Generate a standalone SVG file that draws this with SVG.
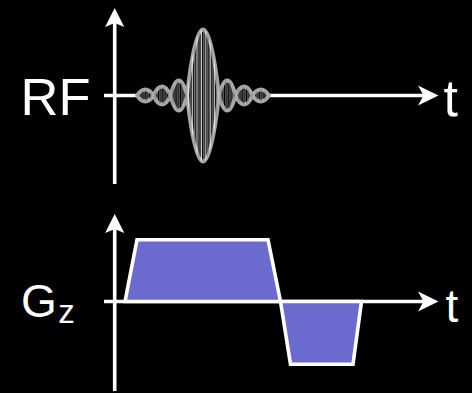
<svg xmlns="http://www.w3.org/2000/svg" width="472" height="393" viewBox="0 0 472 393">
  <style>
    .axis { stroke: #ffffff; stroke-width: 3.6; fill: none; }
    .head { fill: #ffffff; stroke: none; }
    .lbl { fill: #ffffff; font-family: "Liberation Sans", Arial, Helvetica, sans-serif; }
    .lobe { fill: #000000; stroke: #a8a8a8; stroke-width: 3.8; stroke-linejoin: round; }
    .trap { fill: #6a6acf; stroke: #ffffff; stroke-width: 3.6; stroke-linejoin: miter; }
  </style>
  <defs>
    <pattern id="carrierMain" patternUnits="userSpaceOnUse" x="187" y="0" width="4.4" height="10">
      <rect x="0.6" y="0" width="1" height="10" fill="#ffffff"/>
      <rect x="2.8" y="0" width="1" height="10" fill="#8a8a8a"/>
    </pattern>
    <pattern id="carrierSide" patternUnits="userSpaceOnUse" x="136" y="0" width="4.4" height="10">
      <rect x="1.2" y="0" width="1" height="10" fill="#7a7a7a"/>
      <rect x="3.3" y="0" width="0.6" height="10" fill="#bdbdbd"/>
    </pattern>
    <clipPath id="mainClip">
      <path d="M187,95.5 C196.6,7.5 209.4,7.5 219,95.5 C209.4,183.5 196.6,183.5 187,95.5Z"/>
    </clipPath>
    <clipPath id="sideClip">
      <path d="M170.5,95.5 C175.5,75.5 182,75.5 187,95.5 C182,115.5 175.5,115.5 170.5,95.5Z"/>
      <path d="M153.5,95.5 C158.6,83.5 165.4,83.5 170.5,95.5 C165.4,107.5 158.6,107.5 153.5,95.5Z"/>
      <path d="M137,95.5 C142,87.5 148.5,87.5 153.5,95.5 C148.5,103.5 142,103.5 137,95.5Z"/>
      <path d="M219,95.5 C224,75.5 230.5,75.5 235.5,95.5 C230.5,115.5 224,115.5 219,95.5Z"/>
      <path d="M235.5,95.5 C240.6,83.5 247.4,83.5 252.5,95.5 C247.4,107.5 240.6,107.5 235.5,95.5Z"/>
      <path d="M252.5,95.5 C257.5,87.5 264,87.5 269,95.5 C264,103.5 257.5,103.5 252.5,95.5Z"/>
    </clipPath>
  </defs>

  <rect x="0" y="0" width="472" height="393" fill="#000000"/>

  <g id="rf-axes">
    <line class="axis" x1="114.7" y1="184" x2="114.7" y2="22"/>
    <polygon class="head" points="114.7,8 124.3,27 114.7,23 105.1,27"/>
    <line class="axis" x1="104" y1="95.5" x2="424" y2="95.5"/>
    <polygon class="head" points="438.5,95.5 418,85.5 423.5,95.5 418,105.5"/>
  </g>

  <g id="rf-pulse">
    <path class="lobe" d="M137,95.5 C142,87.5 148.5,87.5 153.5,95.5 C148.5,103.5 142,103.5 137,95.5Z"/>
    <path class="lobe" d="M153.5,95.5 C158.6,83.5 165.4,83.5 170.5,95.5 C165.4,107.5 158.6,107.5 153.5,95.5Z"/>
    <path class="lobe" d="M170.5,95.5 C175.5,75.5 182,75.5 187,95.5 C182,115.5 175.5,115.5 170.5,95.5Z"/>
    <path class="lobe" d="M219,95.5 C224,75.5 230.5,75.5 235.5,95.5 C230.5,115.5 224,115.5 219,95.5Z"/>
    <path class="lobe" d="M235.5,95.5 C240.6,83.5 247.4,83.5 252.5,95.5 C247.4,107.5 240.6,107.5 235.5,95.5Z"/>
    <path class="lobe" d="M252.5,95.5 C257.5,87.5 264,87.5 269,95.5 C264,103.5 257.5,103.5 252.5,95.5Z"/>
    <path class="lobe" d="M187,95.5 C196.6,7.5 209.4,7.5 219,95.5 C209.4,183.5 196.6,183.5 187,95.5Z"/>
    <rect x="136" y="70" width="134" height="52" fill="url(#carrierSide)" clip-path="url(#sideClip)"/>
    <rect x="187" y="20" width="32" height="152" fill="url(#carrierMain)" clip-path="url(#mainClip)"/>
  </g>

  <g id="gz-axes">
    <line class="axis" x1="114.7" y1="391" x2="114.7" y2="229"/>
    <polygon class="head" points="114.7,214 124.3,233 114.7,229 105.1,233"/>
    <line class="axis" x1="104" y1="301.5" x2="424" y2="301.5"/>
    <polygon class="head" points="438.5,301.5 418,291.5 423.5,301.5 418,311.5"/>
  </g>

  <g id="gz-gradient">
    <polygon class="trap" points="125,301.5 137,239.7 268,239.7 280.5,301.5"/>
    <polygon class="trap" points="280.5,301.5 290.5,364.3 353,364.3 361.5,301.5"/>
  </g>

  <g id="labels">
    <text class="lbl" x="20.5" y="115" font-size="52.5">RF</text>
    <text class="lbl" x="443.5" y="116" font-size="52">t</text>
    <text class="lbl" x="21" y="316.5" font-size="46">G</text>
    <text class="lbl" x="58.3" y="322.7" font-size="33">z</text>
    <text class="lbl" x="445.5" y="321.7" font-size="46">t</text>
  </g>
</svg>
